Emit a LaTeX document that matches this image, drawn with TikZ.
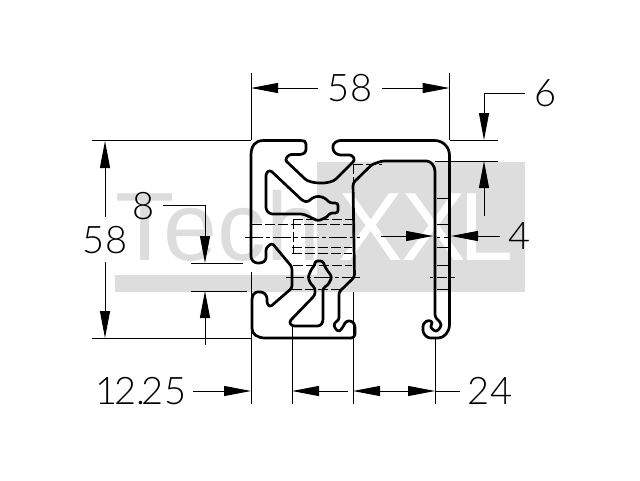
\documentclass[tikz,border=0pt]{standalone}
\usepackage{fontspec}
\usetikzlibrary{arrows.meta}
\setmainfont{Liberation Sans}
\newfontfamily\dimfont{Lato Light}
\definecolor{wm}{HTML}{DDDDDD}
\tikzset{
  x=1pt,y=-1pt,
  profile/.style={line width=2.7pt,black,rounded corners=2.5pt,line join=round},
  thin line/.style={line width=1pt,black},
  hid/.style={line width=1pt,black,dash pattern=on 10pt off 3pt},
  ctr/.style={line width=1pt,black,dash pattern=on 18pt off 3pt on 4pt off 3pt},
  dimarrow/.style={line width=1pt,black,-{Triangle[length=27pt,width=10pt]}},
  dimtext/.style={inner sep=0pt,font=\dimfont\fontsize{38}{38}\selectfont,text=black},
  wmtext/.style={inner sep=0pt,anchor=base west,font=\fontsize{97}{97}\selectfont}
}
\begin{document}
\begin{tikzpicture}
\useasboundingbox (0,0) rectangle (640,480);
\fill[white] (0,0) rectangle (640,480);
% watermark
\node[wmtext,text=wm] (wmA) at (115,260) {Tech};
\fill[wm] (317,162) rectangle (525,275);
\fill[wm] (115,275) rectangle (525,292);
\node[wmtext,text=white] (wmB) at (338,260) {X\kern-1.7pt X\kern-6pt L};
% hidden lines
\draw[hid] (252,224) -- (352,224);
\draw[hid] (293,219) -- (352,219);
\draw[hid] (293,219) -- (293,253);
\draw[hid] (292,247) -- (352,247);
\draw[hid] (292,253) -- (352,253);
\draw[hid] (293,265) -- (352,265);
\draw[hid] (292,289) -- (340,289);
\draw[hid] (353,164) -- (382,164);
\draw[hid] (353,164) -- (353,182);
\foreach \yy in {198,224,247,265,289}{\draw[line width=1pt] (437,\yy) -- (448,\yy);}
\draw[ctr] (245,237) -- (360,237);
\draw[ctr] (286,277) -- (360,277);
\draw[line width=1pt] (430,277) -- (433,277) (437,277) -- (447,277) (451,277) -- (455,277);
\draw[line width=1pt] (437,237) -- (440,237) (444,237) -- (448,237);
% profile
\draw[profile] (251,158) .. controls (251,146) and (255,140.5) .. (266,140.5)
  -- (303,140.5) -- (306,142) -- (306,152) -- (302,154.5) -- (289,154.5) -- (285,160)
  -- (303,177) .. controls (310,184) and (330,185) .. (338,177)
  -- (355,160) -- (352,155) -- (338,155) -- (333,151) -- (333,144) -- (338,140.5)
  -- (432,140.5) .. controls (443,140.5) and (449.5,147) .. (449.5,158)
  -- (449.5,322) .. controls (449.5,332) and (444,338) .. (436,338)
  -- (428,338) -- (423,333) -- (423,324) -- (428,320) -- (433,322) -- (430,327) -- (436,332)
  -- (441,327) -- (441,323) -- (435,317)
  -- (435,174) .. controls (435,166) and (431,161) .. (424,161)
  -- (382,161) -- (372,164.5) -- (353,183)
  -- (354.5,277) -- (339,292) -- (339,320) -- (334,323) -- (334.5,328) -- (339,332)
  -- (343,327) -- (346,321) -- (352,321) -- (355,325) -- (355,332)
  .. controls (355,336) and (353,338) .. (349,338)
  -- (268,338) .. controls (257,338) and (252,334) .. (252,326)
  -- (252,297) -- (255,292) -- (263,292) -- (267,296) -- (267,304) -- (270,307)
  -- (292,288) -- (292,267) -- (272,243) -- (266,248) -- (266,260) -- (262,263)
  -- (255,263) -- (251,259) -- cycle;
% upper cavity
\draw[profile] (270,170) -- (266,173) -- (266,210) -- (270,214) -- (303,214) -- (310,217)
  -- (318,221) -- (327,217) -- (330,213) -- (338,213) -- (338,203) -- (330,203)
  -- (325,198) -- (318,196) -- (312,198) -- (308,202) -- (303,201) -- cycle;
% lower cavity
\draw[profile] (315,261) -- (323,261) -- (325,267) -- (332,277) -- (328,285) -- (323,288)
  -- (323,322) -- (320,326) -- (292,326) -- (289,322) -- (315,295) -- (315,288) -- (310,283)
  -- (308,277) -- (312,268) -- (315,265) -- cycle;
% extension lines
\draw[thin line] (251,73) -- (251,140);
\draw[thin line] (449.5,73) -- (449.5,140);
\draw[thin line] (92,140.5) -- (251,140.5);
\draw[thin line] (92,338) -- (251,338);
\draw[thin line] (450,140.5) -- (498,140.5);
\draw[thin line] (435,161) -- (498,161);
\draw[thin line] (191,263) -- (243,263);
\draw[thin line] (191,291) -- (247,291);
\draw[thin line] (251,272) -- (251,404);
\draw[thin line] (292,326) -- (292,404);
\draw[thin line] (353,292) -- (353,404);
\draw[thin line] (435,338) -- (435,404);
% 58 top
\node[dimtext] (tA) at (350,88) {58};
\coordinate (a1) at (251,88); \coordinate (a2) at (449.5,88);
\draw[dimarrow] (318,88) -- (a1);
\draw[dimarrow] (382,88) -- (a2);
% 6
\node[dimtext] (tB) at (546,93) {6};
\draw[dimarrow] (525,93) -- (484,93) -- (484,140);
\draw[dimarrow] (484,216) -- (484,161);
% 4
\node[dimtext] (tC) at (520,236) {4};
\draw[dimarrow] (381,236) -- (433,236);
\draw[dimarrow] (500,236) -- (451,236);
% 58 left
\node[dimtext] (tD) at (105,240) {58};
\draw[dimarrow] (105,217) -- (105,141);
\draw[dimarrow] (105,262) -- (105,338);
% 8
\node[dimtext] (tE) at (144,206) {8};
\draw[dimarrow] (163,205) -- (205,205) -- (205,263);
\draw[dimarrow] (205,345) -- (205,291);
% bottom
\node[dimtext] (tF) at (141,391) {1\kern-4pt 2.\kern-3pt 25};
\node[dimtext] (tG) at (490,391) {24};
\draw[dimarrow] (193,391) -- (251,391);
\draw[dimarrow] (348,391) -- (292,391);
\draw[dimarrow] (408,391) -- (353,391);
\draw[dimarrow] (381,391) -- (435,391);
\draw[thin line] (435,391) -- (460,391);
\end{tikzpicture}
\end{document}
